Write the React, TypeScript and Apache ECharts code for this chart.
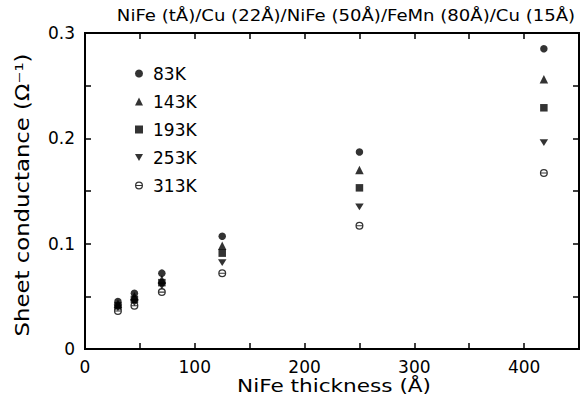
import React, { useEffect, useRef } from "react";
import * as echarts from "echarts";

const thickness = [30, 45, 70, 125, 250, 418];
const k83 = [0.045, 0.053, 0.072, 0.107, 0.187, 0.285];
const k143 = [0.043, 0.05, 0.066, 0.098, 0.17, 0.256];
const k193 = [0.041, 0.047, 0.063, 0.091, 0.153, 0.229];
const k253 = [0.039, 0.044, 0.06, 0.082, 0.135, 0.196];
const k313 = [0.036, 0.041, 0.054, 0.072, 0.117, 0.167];
const seriesNames = ["83K", "143K", "193K", "253K", "313K"];
const xLabels = [0, 100, 200, 300, 400];
const yLabels = [0, 0.1, 0.2, 0.3];
const xRange = [0, 450];
const yRange = [0, 0.3];
const titleText = "NiFe (tÅ)/Cu (22Å)/NiFe (50Å)/FeMn (80Å)/Cu (15Å)";
const xName = "NiFe thickness (Å)";
const yName = "Sheet conductance (Ω⁻¹)";

const THETA =
  "path://M0,5 A5,5 0 1,1 10,5 A5,5 0 1,1 0,5 Z M1.6,5 A3.4,3.4 0 1,0 8.4,5 A3.4,3.4 0 1,0 1.6,5 Z M1.6,4.35 H8.4 V5.65 H1.6 Z";
const INV_TRI = "path://M0,0 L10,0 L5,9 Z";

const FONT = "DejaVu Sans";
const INK = "#000";

export default function App() {
  const ref = useRef<HTMLDivElement>(null);
  useEffect(() => {
    if (!ref.current) return;
    const chart = echarts.init(ref.current, null, { renderer: "svg" });
    const values = [k83, k143, k193, k253, k313];
    const symbols: any[] = ["circle", "triangle", "rect", INV_TRI, THETA];
    const sizes: any[] = [7.5, 8.5, 7.5, [8.5, 7.5], 8];
    const mkLine = () => ({ show: true, onZero: false, lineStyle: { color: INK, width: 2 } });
    const mkTick = () => ({ show: true, inside: true, length: 6, lineStyle: { color: INK, width: 1.5 } });
    const option: any = {
      animation: false,
      backgroundColor: "#fff",
      grid: {
        left: 85,
        right: 4,
        top: 33,
        bottom: 53,
        containLabel: false,
        show: true,
        borderColor: INK,
        borderWidth: 2,
      },
      legend: {
        orient: "vertical",
        left: 130,
        top: 60,
        itemWidth: 8,
        itemHeight: 8,
        itemGap: 11,
        data: seriesNames,
        textStyle: { fontFamily: FONT, fontSize: 17, color: "#000", padding: [0, 0, 0, 5] },
      },
      graphic: [
        {
          type: "text",
          x: 346,
          y: 15,
          scaleX: 1.13,
          style: {
            text: titleText,
            fontFamily: FONT,
            fontSize: 16,
            fill: "#000",
            align: "center",
            verticalAlign: "middle",
          },
        },
        {
          type: "text",
          x: 334,
          y: 386,
          scaleX: 1.2,
          style: {
            text: xName,
            fontFamily: FONT,
            fontSize: 18,
            fill: "#000",
            align: "center",
            verticalAlign: "middle",
          },
        },
        {
          type: "text",
          x: 23,
          y: 195,
          rotation: Math.PI / 2,
          scaleX: 1.2,
          style: {
            text: yName,
            fontFamily: FONT,
            fontSize: 19,
            fill: "#000",
            align: "center",
            verticalAlign: "middle",
          },
        },
      ],
      xAxis: [
        {
          type: "value",
          gridIndex: 0,
          min: xRange[0],
          max: xRange[1],
          interval: 50,
          position: "bottom",
          axisLine: mkLine(),
          axisTick: mkTick(),
          splitLine: { show: false },
          axisLabel: {
            color: "#000",
            fontFamily: FONT,
            fontSize: 17,
            margin: 9,
            showMaxLabel: false,
            formatter: (v: number) => (xLabels.includes(v) ? String(v) : ""),
          },
        },
        {
          type: "value",
          gridIndex: 0,
          min: xRange[0],
          max: xRange[1],
          interval: 50,
          position: "top",
          axisLine: mkLine(),
          axisTick: mkTick(),
          splitLine: { show: false },
          axisLabel: { show: false },
        },
      ],
      yAxis: [
        {
          type: "value",
          gridIndex: 0,
          min: yRange[0],
          max: yRange[1],
          interval: 0.05,
          position: "left",
          axisLine: mkLine(),
          axisTick: mkTick(),
          splitLine: { show: false },
          axisLabel: {
            color: "#000",
            fontFamily: FONT,
            fontSize: 17,
            margin: 10,
            formatter: (v: number) => {
              const r = Math.round(v * 100) / 100;
              const hit = yLabels.find((y) => Math.abs(y - r) < 1e-6);
              if (hit === undefined) return "";
              return hit === 0 ? "0" : hit.toFixed(1);
            },
          },
        },
        {
          type: "value",
          gridIndex: 0,
          min: yRange[0],
          max: yRange[1],
          interval: 0.05,
          position: "right",
          axisLine: mkLine(),
          axisTick: mkTick(),
          splitLine: { show: false },
          axisLabel: { show: false },
        },
      ],
      series: [
        ...seriesNames.map((name, i) => ({
          name,
          type: "scatter",
          xAxisIndex: 0,
          yAxisIndex: 0,
          symbol: symbols[i],
          symbolSize: sizes[i],
          symbolKeepAspect: true,
          itemStyle: { color: "#000" },
          data: thickness.map((t, j) => [t, values[i][j]]),
        })),
        {
          name: "frame",
          type: "scatter",
          xAxisIndex: 1,
          yAxisIndex: 1,
          symbolSize: 0,
          silent: true,
          itemStyle: { opacity: 0 },
          data: [[thickness[0], k83[0]]],
          markLine: {
            silent: true,
            symbol: "none",
            label: { show: false },
            lineStyle: { color: INK, width: 2, type: "solid" },
            data: [{ yAxis: yRange[1] }, { xAxis: xRange[1] }],
          },
        },
      ],
    };
    chart.setOption(option);
    return () => chart.dispose();
  }, []);
  return (
    <div
      ref={ref}
      style={{ position: "absolute", left: 0, top: 0, width: 583, height: 402 }}
    />
  );
}
